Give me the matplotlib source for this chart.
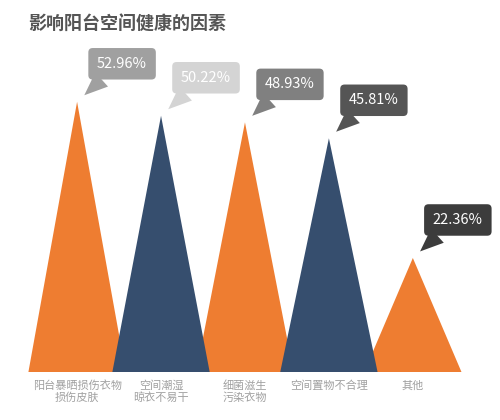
import numpy as np
import matplotlib
matplotlib.use('Agg')
import matplotlib.pyplot as plt
from matplotlib.patches import Polygon

plt.rcParams['font.family'] = ['Noto Sans CJK SC', 'DejaVu Sans']

categories = ['阳台暴晒损伤衣物\n损伤皮肤', '空间潮湿\n晾衣不易干', '细菌滋生\n污染衣物', '空间置物不合理', '其他']
values = [52.96, 50.22, 48.93, 45.81, 22.36]
fill_colors = ['#ee7d31', '#364e6e', '#ee7d31', '#364e6e', '#ee7d31']
tag_colors = ['#a0a0a0', '#d4d4d4', '#808080', '#555555', '#3c3c3c']
half_w = 0.58

fig = plt.figure(figsize=(5, 4.2), dpi=100)
ax = fig.add_axes([0.04, 0.114, 0.92, 0.79])
ax.set_xlim(-0.68, 4.80)
ax.set_ylim(0, 65)

for i, (v, c) in enumerate(zip(values, fill_colors)):
    ax.add_patch(Polygon([(i - half_w, 0), (i, v), (i + half_w, 0)],
                         closed=True, fc=c, ec='none', zorder=2 + i % 2))
    ax.annotate(f'{v:.2f}%', xy=(i, v), xytext=(45, 38), textcoords='offset pixels',
                ha='center', va='center', color='white', fontsize=10.5,
                bbox=dict(boxstyle='round,pad=0.6,rounding_size=0.3',
                          fc=tag_colors[i], ec='none'),
                arrowprops=dict(arrowstyle='wedge,tail_width=1.3', fc=tag_colors[i],
                                ec='none', relpos=(0.3, 0.05), shrinkA=0, shrinkB=7),
                zorder=5)

ax.set_xticks(range(len(categories)))
ax.set_xticklabels(categories, fontsize=8, color='#a0a0a0', linespacing=1.1)
ax.tick_params(length=0, pad=6)
ax.set_yticks([])
for s in ax.spines.values():
    s.set_visible(False)

fig.text(0.056, 0.945, '影响阳台空间健康的因素', fontsize=13, fontweight='bold',
         color='#555555', ha='left', va='center')

fig.savefig('out.png', dpi=100, facecolor='white')
